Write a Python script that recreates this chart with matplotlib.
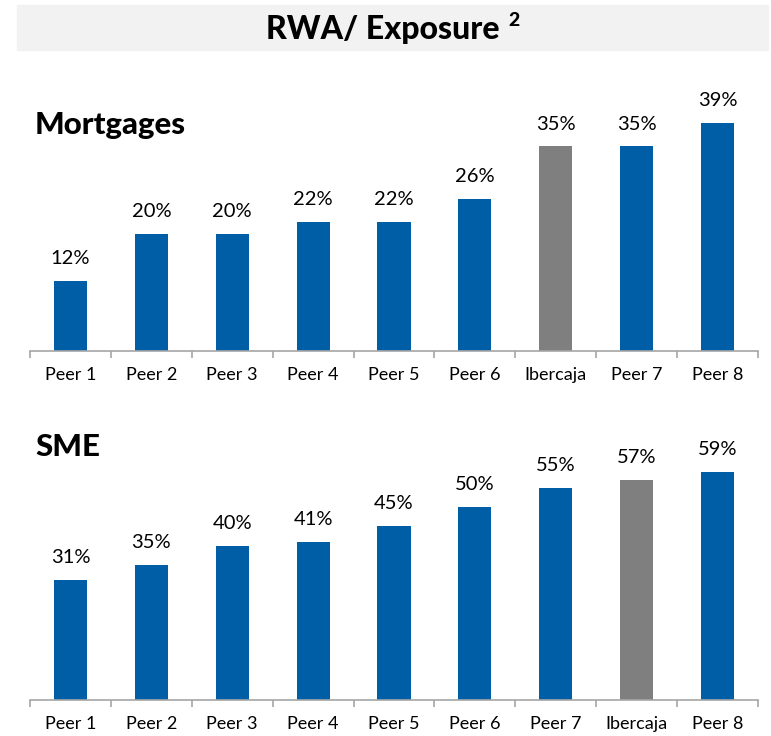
import matplotlib
matplotlib.use('Agg')
import matplotlib.pyplot as plt
from matplotlib.patches import Rectangle

# data
mort_labels = ['Peer 1', 'Peer 2', 'Peer 3', 'Peer 4', 'Peer 5', 'Peer 6', 'Ibercaja', 'Peer 7', 'Peer 8']
mort_values = [12, 20, 20, 22, 22, 26, 35, 35, 39]
sme_labels = ['Peer 1', 'Peer 2', 'Peer 3', 'Peer 4', 'Peer 5', 'Peer 6', 'Peer 7', 'Ibercaja', 'Peer 8']
sme_values = [31, 35, 40, 41, 45, 50, 55, 57, 59]

BLUE = '#005EA6'
GREY = '#7F7F7F'
W, H = 771, 736

plt.rcParams['font.family'] = ['Lato', 'DejaVu Sans']

fig = plt.figure(figsize=(W / 100, H / 100), dpi=100)

# title band
fig.patches.append(Rectangle((17 / W, 1 - 50 / H), 751 / W, 45 / H,
                             transform=fig.transFigure, color='#F2F2F2', zorder=0))
fig.text(500 / W, 1 - 29 / H, 'RWA/ Exposure', ha='right', va='center',
         fontsize=23, fontweight='black')
fig.text(508 / W, 1 - 21 / H, '2', ha='left', va='center', fontsize=14, fontweight='black')


def draw_panel(top_px, base_px, ymax, labels, values, name, name_y):
    ax = fig.add_axes([30 / W, 1 - base_px / H, 728 / W, (base_px - top_px) / H])
    x = range(len(labels))
    colors = [GREY if l == 'Ibercaja' else BLUE for l in labels]
    ax.bar(x, values, width=0.41, color=colors)
    for xi, v in zip(x, values):
        ax.annotate(f'{v}%', (xi, v), xytext=(0, 10), textcoords='offset points',
                    ha='center', va='bottom', fontsize=14.5)
    ax.set_xlim(-0.5, len(labels) - 0.5)
    ax.set_ylim(0, ymax)
    for s in ['top', 'right', 'left']:
        ax.spines[s].set_visible(False)
    ax.spines['bottom'].set_color('#A6A6A6')
    ax.spines['bottom'].set_linewidth(1.2)
    ax.set_yticks([])
    # category labels sit under the bars, tick marks between them
    ax.set_xticks([i - 0.5 for i in range(len(labels) + 1)])
    ax.set_xticklabels([])
    ax.tick_params(axis='x', length=5, width=1.2, color='#A6A6A6')
    for xi, l in zip(x, labels):
        ax.text(xi, -0.06, l, transform=ax.get_xaxis_transform(), ha='center', va='top',
                fontsize=13)
    fig.text(35 / W, 1 - name_y / H, name, ha='left', va='center', fontsize=22.5,
             fontweight='black')
    return ax


draw_panel(90, 351, 261 / 5.846, mort_labels, mort_values, 'Mortgages', 125)
draw_panel(440, 700, 260 / 3.86, sme_labels, sme_values, 'SME', 447)

fig.savefig('out.png', dpi=100)
